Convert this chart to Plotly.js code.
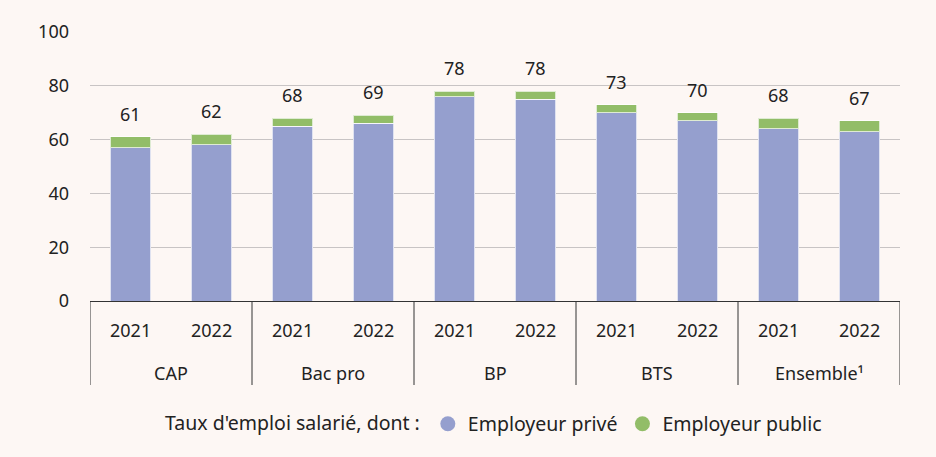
<!DOCTYPE html>
<html>
<head>
<meta charset="utf-8">
<script src="https://cdn.plot.ly/plotly-3.0.1.min.js"></script>
<style>html,body{margin:0;padding:0;background:#fdf7f4;}</style>
</head>
<body>
<div id="chart" style="width:936px;height:457px;"></div>
<script>
// Data
const diplomas = ['CAP', 'Bac pro', 'BP', 'BTS', 'Ensemble¹'];
const years = ['2021', '2022'];
// values ordered diploma by diploma, year by year
const employeurPrive  = [57, 58, 65, 66, 76, 75, 70, 67, 64, 63];
const employeurPublic = [4, 4, 3, 3, 2, 3, 3, 3, 4, 4];
const tauxEmploi      = [61, 62, 68, 69, 78, 78, 73, 70, 68, 67];

const xIdx = [], xYear = [];
diplomas.forEach(d => years.forEach(y => { xIdx.push(xIdx.length); xYear.push(y); }));
const nY = years.length;

const font = 'Noto Sans, Open Sans, sans-serif';
const fs = 18;
const lfs = 19.5;
const blue = '#959fce', green = '#92bd68', bg = '#fdf7f4', ink = '#222';

const traces = [
  {type: 'bar', x: xIdx, y: employeurPrive, name: 'Employeur privé',
   marker: {color: blue, line: {color: 'rgba(255,255,255,0.7)', width: 1}}, showlegend: false},
  {type: 'bar', x: xIdx, y: employeurPublic, name: 'Employeur public',
   marker: {color: green, line: {color: 'rgba(255,255,255,0.7)', width: 1}}, showlegend: false},
  {type: 'scatter', mode: 'markers', x: [null], y: [null], name: 'Employeur privé',
   marker: {color: blue, size: 15, symbol: 'circle'}, showlegend: true},
  {type: 'scatter', mode: 'markers', x: [null], y: [null], name: 'Employeur public',
   marker: {color: green, size: 15, symbol: 'circle'}, showlegend: true}
];

const annotations = [];
// totals above bars
tauxEmploi.forEach((v, i) => annotations.push({
  x: xIdx[i], y: v, xref: 'x', yref: 'y', text: String(v), showarrow: false,
  yanchor: 'bottom', yshift: 9, font: {family: font, size: fs, color: ink}
}));
// year labels
xYear.forEach((y, i) => annotations.push({
  x: xIdx[i], y: 0, xref: 'x', yref: 'paper', text: y, showarrow: false,
  yanchor: 'middle', yshift: -29, font: {family: font, size: fs, color: ink}
}));
// diploma labels
diplomas.forEach((d, k) => annotations.push({
  x: k * nY + (nY - 1) / 2, y: 0, xref: 'x', yref: 'paper', text: d, showarrow: false,
  yanchor: 'middle', yshift: -72, font: {family: font, size: fs, color: ink}
}));

// group dividers
const shapes = [];
for (let k = 0; k <= diplomas.length; k++) {
  shapes.push({type: 'line', xref: 'x', yref: 'paper', ysizemode: 'pixel', yanchor: 0,
    x0: k * nY - 0.5, x1: k * nY - 0.5, y0: 0, y1: -84,
    line: {color: '#333', width: 1}});
}

const layout = {
  width: 936, height: 457,
  paper_bgcolor: bg, plot_bgcolor: bg,
  margin: {l: 90, r: 36, t: 32, b: 156},
  barmode: 'stack', bargap: 0.5,
  font: {family: font, size: fs, color: ink},
  xaxis: {range: [-0.5, xIdx.length - 0.5], showline: true, linecolor: '#333', linewidth: 1,
          showgrid: false, zeroline: false, showticklabels: false, ticks: '', fixedrange: true},
  yaxis: {range: [0, 100], dtick: 20, showgrid: true, gridcolor: '#c8c4c4', gridwidth: 1,
          zeroline: false, showline: false, ticks: '', ticklabelstandoff: 20,
          tickfont: {family: font, size: fs, color: ink}},
  legend: {orientation: 'h', x: 0.5, xanchor: 'center', yref: 'container', y: 0.072, yanchor: 'middle',
           traceorder: 'normal',
           title: {text: "Taux d'emploi salarié, dont :", font: {family: font, size: lfs, color: ink}},
           font: {family: font, size: lfs, color: ink}, itemwidth: 30, bgcolor: 'rgba(0,0,0,0)'},
  annotations: annotations,
  shapes: shapes,
  showlegend: true
};

Plotly.newPlot('chart', traces, layout, {displayModeBar: false, staticPlot: true});
</script>
</body>
</html>
